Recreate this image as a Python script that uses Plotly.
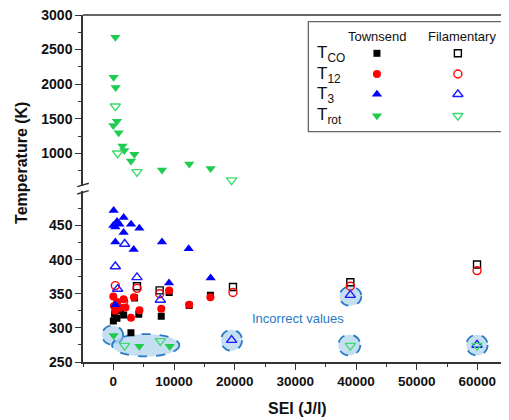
import plotly.graph_objects as go

# ---------------- data (SEI in J/l, temperature in K) ----------------
# Townsend discharge (filled symbols)
tco_town_x = [0, 200, 600, 1200, 1700, 2900, 3500, 4200, 7900, 9200, 12500, 16000]
tco_town_y = [310, 320, 314, 325, 319, 293, 344, 320, 317, 352, 333, 348]

t12_town_x = [0, 100, 300, 600, 1000, 1700, 2000, 2900, 3400, 4300, 7900, 9200, 12500, 16000]
t12_town_y = [346, 332, 325, 338, 329, 342, 330, 315, 345, 326, 328, 355, 334, 345]

t3_town_x = [50, 0, 330, 610, 1700, 1000, 2920, 4290, 1700, 330, 8020, 12420, 3350, 9180, 16040, 330]
t3_town_y = [472, 450, 448, 456, 462, 452, 452, 446, 440, 426, 426, 416, 415, 366, 373, 334]

trot_town_x = [330, 50, 380, 600, 0, 880, 1500, 1800, 3460, 2910, 8020, 12520, 16030, 50, 4290, 9290]
trot_town_y = [2680, 2100, 1950, 1465, 1403, 1298, 1105, 1040, 986, 890, 760, 846, 780, 289, 273, 273]

# Filamentary discharge (open symbols)
tco_fil_x = [3900, 7640, 19720, 39060, 59950]
tco_fil_y = [361, 355, 360, 367, 393]

t12_fil_x = [330, 3900, 7640, 1700, 19720, 39060, 59950]
t12_fil_y = [362, 358, 350, 339, 352, 361, 384]

t3_fil_x = [1870, 330, 3900, 710, 7750, 19500, 39060, 59950]
t3_fil_y = [423, 390, 374, 357, 341, 282, 348, 275]

trot_fil_x = [330, 710, 3900, 19500, 1870, 7750, 39060, 59950]
trot_fil_y = [1681, 1000, 731, 612, 274, 281, 274, 274]

x_ticks = [0, 10000, 20000, 30000, 40000, 50000, 60000]
low_ticks = [250, 300, 350, 400, 450]
high_ticks = [1000, 1500, 2000, 2500, 3000]
BREAK = 500  # values above go to the upper panel

# ---------------- styles ----------------
FONT = "Arial, Liberation Sans, sans-serif"
AX = "#333333"
GREEN_F = "#1fcc4f"
GREEN_O = "#3ddc6c"

series = [
    ("tco", tco_town_x, tco_town_y, "square", "#000000", 7, True),
    ("t12", t12_town_x, t12_town_y, "circle", "#ff0000", 8, True),
    ("t3", t3_town_x, t3_town_y, "triangle-up", "#0000ff", 9, True),
    ("trot", trot_town_x, trot_town_y, "triangle-down", GREEN_F, 9, True),
    ("tco", tco_fil_x, tco_fil_y, "square-open", "#000000", 7, False),
    ("t12", t12_fil_x, t12_fil_y, "circle-open", "#ff0000", 8, False),
    ("t3", t3_fil_x, t3_fil_y, "triangle-up-open", "#1a1aff", 9, False),
    ("trot", trot_fil_x, trot_fil_y, "triangle-down-open", GREEN_O, 9, False),
]

fig = go.Figure()
for name, xs, ys, sym, col, size, filled in series:
    lo = [(x, y) for x, y in zip(xs, ys) if y < BREAK]
    hi = [(x, y) for x, y in zip(xs, ys) if y >= BREAK]
    for pts, yax in ((lo, "y"), (hi, "y2")):
        if not pts:
            continue
        fig.add_trace(go.Scatter(
            x=[p[0] for p in pts], y=[p[1] for p in pts], mode="markers",
            xaxis="x", yaxis=yax, showlegend=False,
            marker=dict(symbol=sym, size=size, color=col,
                        line=dict(width=1.4 if not filled else 0, color=col)),
        ))

# ---------------- custom two-column legend ----------------
leg_rows = [("T<sub>CO</sub>", "square", "#000000", 7, "#000000"),
            ("T<sub>12</sub>", "circle", "#ff0000", 8, "#ff0000"),
            ("T<sub>3</sub>", "triangle-up", "#0000ff", 9, "#1a1aff"),
            ("T<sub>rot</sub>", "triangle-down", GREEN_F, 9, GREEN_O)]
row_y = [0.8896, 0.830, 0.7715, 0.7098]
col_x = [0.690, 0.880]
for (lab, sym, cf, sz, co), ry in zip(leg_rows, row_y):
    fig.add_trace(go.Scatter(x=[col_x[0]], y=[ry], mode="markers", xaxis="x2", yaxis="y3",
                             showlegend=False, hoverinfo="skip",
                             marker=dict(symbol=sym, size=sz, color=cf)))
    fig.add_trace(go.Scatter(x=[col_x[1]], y=[ry], mode="markers", xaxis="x2", yaxis="y3",
                             showlegend=False, hoverinfo="skip",
                             marker=dict(symbol=sym + "-open", size=sz, color=co,
                                         line=dict(width=1.4, color=co))))

annotations = [
    dict(text="Townsend", x=0.6918, y=0.9375, xref="paper", yref="paper", showarrow=False,
         xanchor="center", yanchor="middle", font=dict(family=FONT, size=13, color="#111")),
    dict(text="Filamentary", x=0.8904, y=0.9375, xref="paper", yref="paper", showarrow=False,
         xanchor="center", yanchor="middle", font=dict(family=FONT, size=13, color="#111")),
    dict(text="Temperature (K)", x=-0.1444, y=0.575, xref="paper", yref="paper", showarrow=False,
         xanchor="center", yanchor="middle", textangle=-90,
         font=dict(family=FONT, size=16, color="#111", weight="bold")),
    dict(text="SEI (J/l)", x=0.5035, y=-0.1326, xref="paper", yref="paper", showarrow=False,
         xanchor="center", yanchor="middle",
         font=dict(family=FONT, size=16, color="#111", weight="bold")),
    dict(text="Incorrect values", x=30410, y=314.5, xref="x", yref="y", showarrow=False,
         xanchor="center", yanchor="middle", font=dict(family=FONT, size=13, color="#2a7abf")),
]
for (lab, *_), ry in zip(leg_rows, row_y):
    annotations.append(dict(text=lab, x=0.5446, y=ry - 0.002, xref="paper", yref="paper",
                            xanchor="left", yanchor="middle", showarrow=False,
                            font=dict(family=FONT, size=17, color="#111")))

# ---------------- shapes ----------------
ELL_LINE = dict(color="#2b7bc4", width=1.8, dash="dash")
ELL_FILL = "rgba(150,195,232,0.55)"
ellipses = [(-1860, 1600, 275.3, 303.6), (-210, 10880, 258.2, 291),
            (17750, 21210, 266.5, 297.3), (37300, 40880, 332.4, 360.7),
            (37090, 40710, 259.7, 290), (58180, 61690, 259.7, 290)]
shapes = []
for x0, x1, y0, y1 in ellipses:
    shapes.append(dict(type="circle", xref="x", yref="y", x0=x0, x1=x1, y0=y0, y1=y1,
                       line=ELL_LINE, fillcolor=ELL_FILL, layer="below"))
# legend box
shapes.append(dict(type="rect", xref="paper", yref="paper", x0=0.529, x1=0.9906,
                   y0=0.6637, y1=0.9807, line=dict(color="#666", width=1.3),
                   fillcolor="white", layer="below"))
# top frame line
shapes.append(dict(type="line", xref="paper", yref="paper", x0=0, x1=1.03, y0=1, y1=1,
                   line=dict(color=AX, width=1.5)))
# axis-break slashes (left and right)
for cx in (0.0, 1.0047):
    for ya, yb in ((0.5052, 0.515), (0.4841, 0.4937)):
        shapes.append(dict(type="line", xref="paper", yref="paper",
                           x0=cx - 0.0136, x1=cx + 0.0136, y0=ya, y1=yb,
                           line=dict(color=AX, width=1.4)))

tickfont = dict(family=FONT, size=14, color="#111", weight="bold")
fig.update_layout(
    template="none",
    width=509, height=420,
    # page body has an 8px margin, so the figure is offset by (8, 8) in the window
    margin=dict(l=75, r=8, t=7, b=66, pad=0),
    paper_bgcolor="white", plot_bgcolor="rgba(0,0,0,0)",
    showlegend=False,
    xaxis=dict(domain=[0, 1], range=[-5000, 65220], anchor="y", tickvals=x_ticks,
               tickformat="d", automargin=False, ticklabeloverflow="allow",
               ticks="outside", ticklen=6, tickwidth=1.3, tickcolor=AX,
               showline=True, linecolor=AX, linewidth=1.5, showgrid=False, zeroline=False,
               tickfont=dict(family=FONT, size=13.5, color="#111", weight="bold"),
               minor=dict(ticks="outside", ticklen=3, tickwidth=1.2, tickcolor=AX,
                          tickvals=[-5000, 5000, 15000, 25000, 35000, 45000, 55000, 65000])),
    yaxis=dict(domain=[0, 0.4914], range=[250, 500], anchor="x", tickvals=low_ticks,
               automargin=False, ticklabeloverflow="allow",
               ticks="outside", ticklen=6, tickwidth=1.3, tickcolor=AX,
               showline=True, linecolor=AX, linewidth=1.5, showgrid=False, zeroline=False,
               tickfont=tickfont,
               minor=dict(ticks="outside", ticklen=3, tickwidth=1.2, tickcolor=AX,
                          tickvals=[275, 325, 375, 425, 475])),
    yaxis2=dict(domain=[0.5058, 1], range=[520, 3000], anchor="x", tickvals=high_ticks,
                automargin=False, ticklabeloverflow="allow",
                ticks="outside", ticklen=6, tickwidth=1.3, tickcolor=AX,
                showline=True, linecolor=AX, linewidth=1.5, showgrid=False, zeroline=False,
                tickfont=tickfont,
                minor=dict(ticks="outside", ticklen=3, tickwidth=1.2, tickcolor=AX,
                           tickvals=[750, 1250, 1750, 2250, 2750])),
    xaxis2=dict(domain=[0, 1], range=[0, 1], anchor="y3", visible=False, automargin=False),
    yaxis3=dict(domain=[0, 1], range=[0, 1], anchor="x2", visible=False, automargin=False),
    annotations=annotations,
    shapes=shapes,
)

fig.write_html("out.html")
